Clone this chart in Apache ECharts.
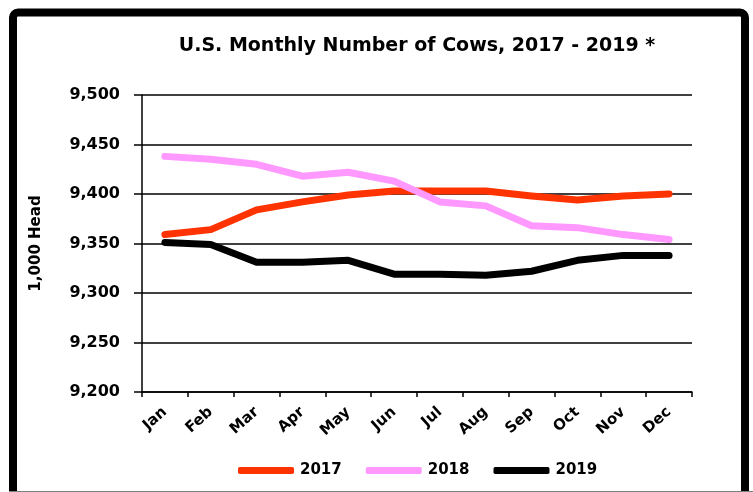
<!DOCTYPE html>
<html><head><meta charset="utf-8">
<script src="https://cdn.jsdelivr.net/npm/echarts@6/dist/echarts.min.js"></script>
<style>html,body{margin:0;padding:0;background:#fff}#c{width:753px;height:492px}</style>
</head><body><div id="c"></div>
<script>
const months = ['Jan','Feb','Mar','Apr','May','Jun','Jul','Aug','Sep','Oct','Nov','Dec'];
const s2017 = [9359, 9364, 9384, 9392, 9399, 9403, 9403, 9403, 9398, 9394, 9398, 9400];
const s2018 = [9438, 9435, 9430, 9418, 9422, 9413, 9392, 9388, 9368, 9366, 9359, 9354];
const s2019 = [9351, 9349, 9331, 9331, 9333, 9319, 9319, 9318, 9322, 9333, 9338, 9338];
const yTicks = {min: 9200, max: 9500, interval: 50};

const F = 'DejaVu Sans';
const chart = echarts.init(document.getElementById('c'), null, {renderer: 'canvas'});
const mk = (name, data, color) => ({
  name, type: 'line', data, symbol: 'none', smooth: false,
  lineStyle: {color, width: 7, cap: 'round', join: 'round'},
  itemStyle: {color}
});
chart.setOption({
  animation: false,
  backgroundColor: '#fff',
  title: {
    text: 'U.S. Monthly Number of Cows, 2017 - 2019 *',
    left: 412, top: 32, textAlign: 'center',
    textStyle: {fontFamily: F, fontWeight: 'bold', fontSize: 19, color: '#000'}
  },
  grid: {left: 142, right: 61, top: 95, bottom: 100, containLabel: false},
  xAxis: {
    type: 'category', data: months, boundaryGap: true,
    axisLine: {lineStyle: {color: '#000', width: 1.5}},
    axisTick: {show: true, length: 5, alignWithLabel: false, lineStyle: {color: '#000', width: 1.5}},
    axisLabel: {rotate: 42, margin: 18, interval: 0, fontFamily: F, fontWeight: 'bold', fontSize: 15, color: '#000'},
    splitLine: {show: false}
  },
  yAxis: {
    type: 'value', min: yTicks.min, max: yTicks.max, interval: yTicks.interval,
    name: '1,000 Head', nameLocation: 'middle', nameGap: 98, nameRotate: 90,
    nameTextStyle: {fontFamily: F, fontWeight: 'bold', fontSize: 15, color: '#000'},
    axisLine: {show: true, lineStyle: {color: '#000', width: 1.5}},
    axisTick: {show: true, length: 8, lineStyle: {color: '#000', width: 1.5}},
    axisLabel: {margin: 22, fontFamily: F, fontWeight: 'bold', fontSize: 16, color: '#000',
      formatter: v => v.toLocaleString('en-US')},
    splitLine: {show: true, lineStyle: {color: '#000', width: 1.5}}
  },
  legend: {
    top: 458, left: 233, icon: 'roundRect', itemWidth: 56, itemHeight: 7, itemGap: 24,
    textStyle: {fontFamily: F, fontWeight: 'bold', fontSize: 15, color: '#000', padding: [0,0,0,1]},
    data: ['2017','2018','2019']
  },
  graphic: [
    {type: 'rect', shape: {x: 13, y: 12.5, width: 732, height: 520, r: 5}, style: {fill: null, stroke: '#000', lineWidth: 8}, silent: true},
    {type: 'line', shape: {x1: 9, y1: 491.5, x2: 753, y2: 491.5}, style: {stroke: '#808080', lineWidth: 1}, silent: true}
  ],
  series: [mk('2017', s2017, '#FF3300'), mk('2018', s2018, '#FF99FF'), mk('2019', s2019, '#000000')]
});
</script></body></html>
